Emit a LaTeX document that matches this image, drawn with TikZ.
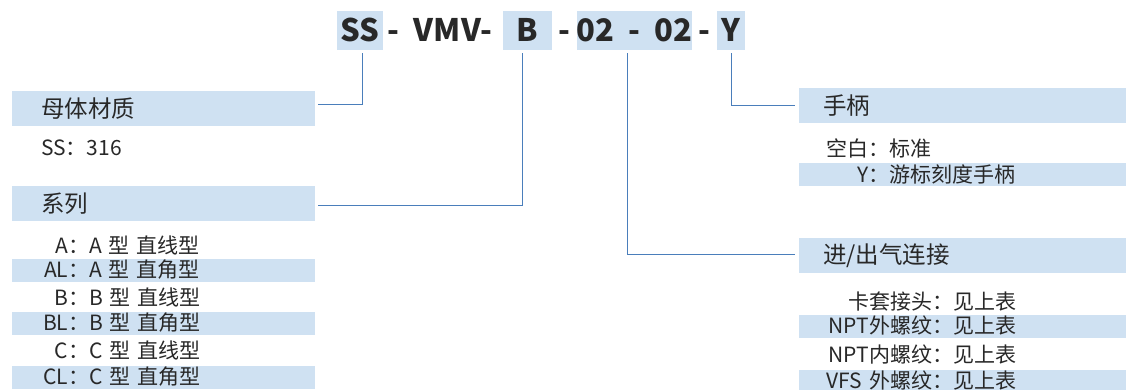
\documentclass[tikz,border=0pt]{standalone}
\usepackage{fontspec}
\setmainfont{Noto Sans CJK SC}
\definecolor{band}{RGB}{207,225,242}
\definecolor{wire}{RGB}{74,126,187}
\definecolor{ink}{RGB}{40,40,40}
\newcommand{\key}[2]{\makebox[#1][r]{#2}}

\tikzset{
	code/.style={font=\fontsize{31}{34}\selectfont\bfseries, text=ink,
		text height=22pt, text depth=0pt, inner sep=0pt, minimum height=39pt},
	codebox/.style={code, fill=band},
	head/.style={fill=band, text=ink, font=\fontsize{23.5}{26}\selectfont,
		anchor=north west, minimum height=35pt, align=left, inner ysep=0pt},
	item/.style={text=ink, font=\fontsize{21}{24}\selectfont, anchor=west,
		inner xsep=0pt, inner ysep=0pt, minimum height=23pt, align=left},
	itemband/.style={item, fill=band},
	wire/.style={draw=wire, line width=1pt}
}

\begin{document}
\begin{tikzpicture}[x=1pt,y=-1pt]
	\useasboundingbox[fill=white] (0,0) rectangle (1126,389);
	% model code
	\node[codebox, minimum width=46pt] (ss) at (360,30.5) {SS};
	\node[code] (d1) at (393,30.5) {-};
	\node[code] (vmv) at (453,30.5) {VMV-};
	\node[codebox, minimum width=49pt] (ser) at (527.5,30.5) {B};
	\node[code] (d2) at (564,30.5) {-};
	\node[codebox, minimum width=115pt] (port) at (634.5,30.5) {02\hspace{14pt}-\hspace{14pt}02};
	\node[code] (d3) at (704,30.5) {-};
	\node[codebox, minimum width=28pt] (hdl) at (731,30.5) {Y};

	% left side
	\node[head, text width=245pt, inner xsep=29pt] (mat) at (12,91) {母体材质};
	\node[item] (mat1) at (41,148) {SS：316};
	\node[head, text width=245pt, inner xsep=29pt] (series) at (12,186) {系列};
	\node[item, text width=303pt] (s1) at (12,245) {\key{77pt}{A：}A 型 直线型};
	\node[itemband, text width=303pt] (s2) at (12,270) {\key{77pt}{AL：}A 型 直角型};
	\node[item, text width=303pt] (s3) at (12,297) {\key{77pt}{B：}B 型 直线型};
	\node[itemband, text width=303pt] (s4) at (12,323) {\key{77pt}{BL：}B 型 直角型};
	\node[item, text width=303pt] (s5) at (12,350) {\key{77pt}{C：}C 型 直线型};
	\node[itemband, text width=303pt] (s6) at (12,377) {\key{77pt}{CL：}C 型 直角型};

	% right side
	\node[head, text width=279pt, inner xsep=24pt] (handle) at (799,88) {手柄};
	\node[item, text width=327pt] (h1) at (799,148) {\key{90pt}{空白：}标准};
	\node[itemband, text width=327pt] (h2) at (799,174.5) {\key{90pt}{Y：}游标刻度手柄};
	\node[head, text width=279pt, inner xsep=24pt] (conn) at (799,238) {进/出气连接};
	\node[item, text width=327pt] (c1) at (799,302) {\key{154pt}{卡套接头：}见上表};
	\node[itemband, text width=327pt] (c2) at (799,326) {\key{154pt}{NPT外螺纹：}见上表};
	\node[item, text width=327pt] (c3) at (799,355) {\key{154pt}{NPT内螺纹：}见上表};
	\node[itemband, text width=327pt] (c4) at (799,381) {\key{154pt}{VFS 外螺纹：}见上表};

	% connectors
	\draw[wire] ([xshift=2pt,yshift=-3pt]ss.south) |- ([xshift=3pt,yshift=4pt]mat.east);
	\draw[wire] ([xshift=-5.5pt,yshift=-3pt]ser.south) |- ([xshift=3pt,yshift=-2pt]series.east);
	\draw[wire] ([xshift=-7.5pt,yshift=-3pt]port.south) |- ([xshift=-4pt,yshift=1.5pt]conn.west);
	\draw[wire] ([yshift=-3pt]hdl.south) |- ([xshift=-4pt]handle.west);
\end{tikzpicture}
\end{document}
